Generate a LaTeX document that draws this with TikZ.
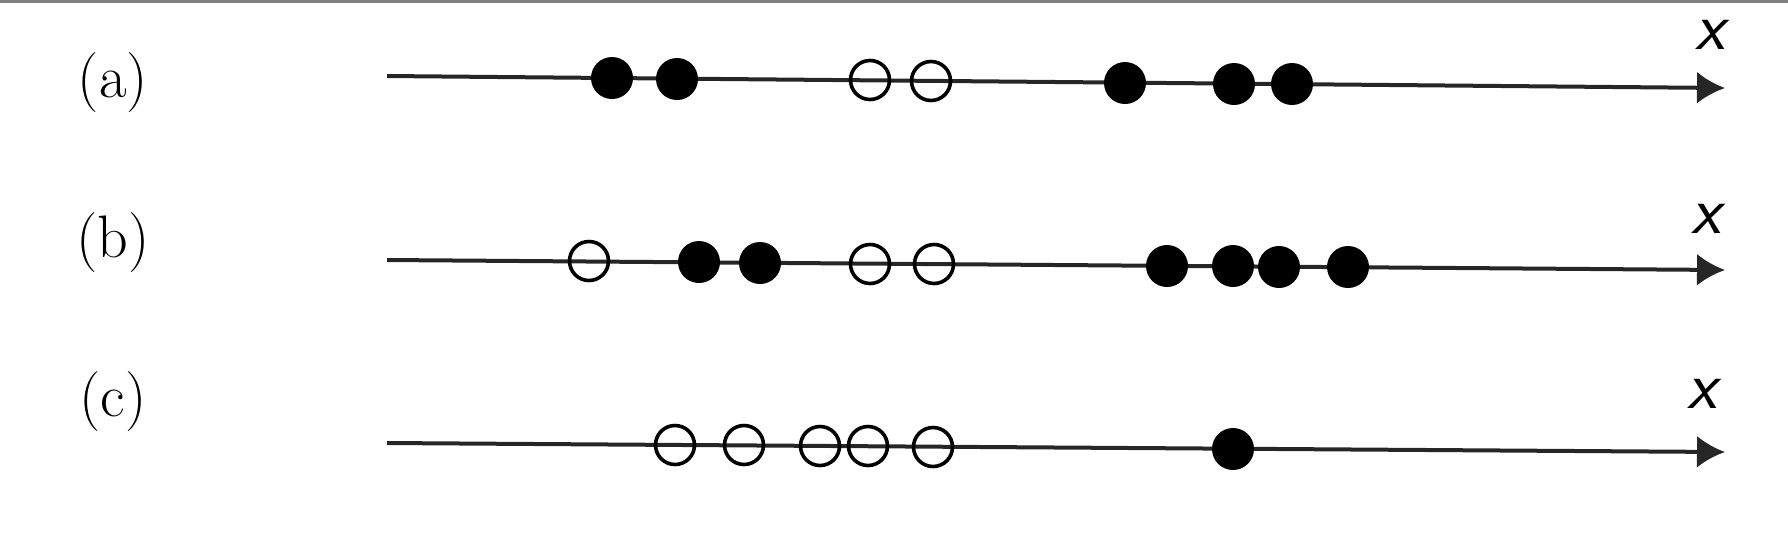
\documentclass[tikz,border=0pt]{standalone}
\usetikzlibrary{arrows.meta}
\tikzset{%
  >={Latex[width=16pt,length=14pt]},
  % Specifications for style of nodes:
        dotbase/.style = {circle, inner sep=0pt, outer sep=0pt},
      filleddot/.style = {dotbase, minimum size=21pt, fill=black},
        opendot/.style = {dotbase, minimum size=19.5pt, draw=black, line width=1.8pt},
           axis/.style = {->, line width=2pt, black!85},
       rowlabel/.style = {font=\fontsize{30}{36}\selectfont},
      axislabel/.style = {inner sep=0pt, font=\fontsize{34}{40}\sffamily\itshape\selectfont}
}

\begin{document}
\begin{tikzpicture}[x=0.5pt, y=-0.5pt]
  \useasboundingbox (0,0) rectangle (1788,532);
  \draw[gray, line width=1.5pt] (0,1) -- (1788,1);

  % row (a)
  \node (la) [rowlabel] at (113,83) {(a)};
  \coordinate (astart) at (387,76);
  \coordinate (aend)   at (1725,88);
  \draw[axis] (astart) -- (aend);
  \node (ax) [axislabel] at (1710,35) {x};
  \node (a1) [filleddot] at (612,78) {};
  \node (a2) [filleddot] at (677,79) {};
  \node (a3) [opendot]   at (870,80) {};
  \node (a4) [opendot]   at (931,81) {};
  \node (a5) [filleddot] at (1125,83) {};
  \node (a6) [filleddot] at (1234,84) {};
  \node (a7) [filleddot] at (1292,84) {};

  % row (b)
  \node (lb) [rowlabel] at (113,243) {(b)};
  \coordinate (bstart) at (387,260);
  \coordinate (bend)   at (1725,270);
  \draw[axis] (bstart) -- (bend);
  \node (bx) [axislabel] at (1706,219) {x};
  \node (b1) [opendot]   at (589,261) {};
  \node (b2) [filleddot] at (699,262) {};
  \node (b3) [filleddot] at (760,263) {};
  \node (b4) [opendot]   at (870,264) {};
  \node (b5) [opendot]   at (934,264) {};
  \node (b6) [filleddot] at (1167,266) {};
  \node (b7) [filleddot] at (1233,266) {};
  \node (b8) [filleddot] at (1279,267) {};
  \node (b9) [filleddot] at (1348,267) {};

  % row (c)
  \node (lc) [rowlabel] at (113,402) {(c)};
  \coordinate (cstart) at (387,443);
  \coordinate (cend)   at (1725,452);
  \draw[axis] (cstart) -- (cend);
  \node (cx) [axislabel] at (1702,394) {x};
  \node (c1) [opendot]   at (675,445) {};
  \node (c2) [opendot]   at (744,445) {};
  \node (c3) [opendot]   at (820,446) {};
  \node (c4) [opendot]   at (868,446) {};
  \node (c5) [opendot]   at (933,447) {};
  \node (c6) [filleddot] at (1233,449) {};
\end{tikzpicture}
\end{document}
